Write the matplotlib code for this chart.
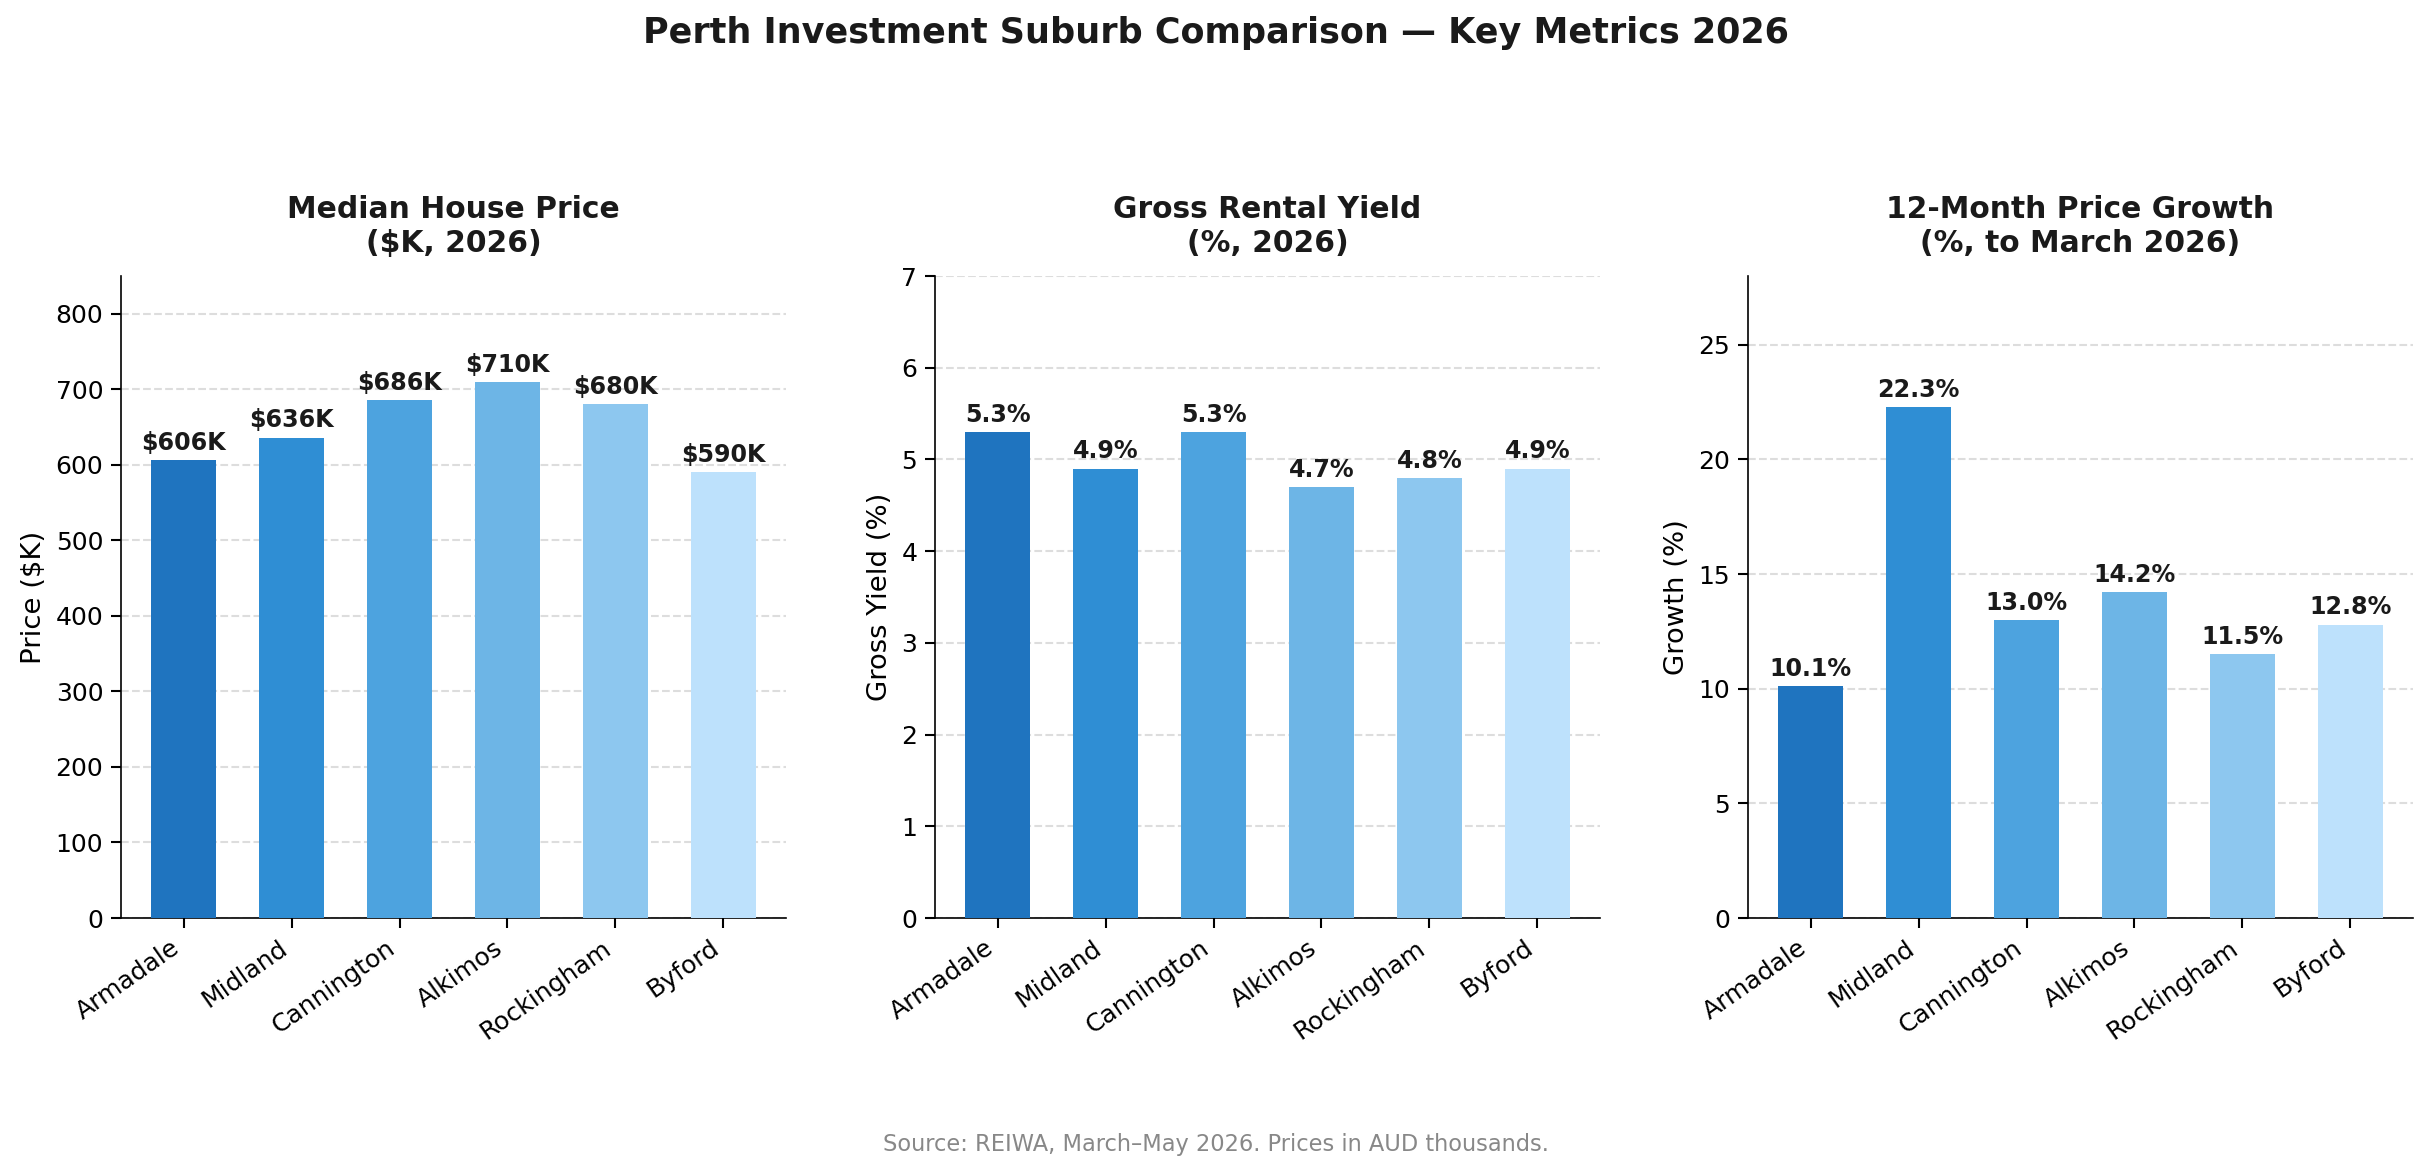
import matplotlib
matplotlib.use("Agg")
import matplotlib.pyplot as plt

suburbs = ["Armadale", "Midland", "Cannington", "Alkimos", "Rockingham", "Byford"]
price_k = [606, 636, 686, 710, 680, 590]
gross_yield = [5.3, 4.9, 5.3, 4.7, 4.8, 4.9]
growth = [10.1, 22.3, 13.0, 14.2, 11.5, 12.8]
colors = ["#1F74BF", "#2F8ED4", "#4DA3DF", "#6DB5E6", "#8DC7EF", "#BDE1FC"]

W, H = 2432, 1174
dpi = 150
fig = plt.figure(figsize=(W / dpi, H / dpi), dpi=dpi)

panels = [
    (price_k, "Median House Price\n($K, 2026)", "Price ($K)", (0, 850), lambda v: f"${v:.0f}K", 121),
    (gross_yield, "Gross Rental Yield\n(%, 2026)", "Gross Yield (%)", (0, 7), lambda v: f"{v:.1f}%", 935),
    (growth, "12-Month Price Growth\n(%, to March 2026)", "Growth (%)", (0, 28), lambda v: f"{v:.1f}%", 1748),
]

for vals, title, ylabel, ylim, fmt, x0 in panels:
    ax = fig.add_axes([x0 / W, 1 - 918 / H, 665 / W, (918 - 276) / H])
    x = range(len(suburbs))
    bars = ax.bar(x, vals, width=0.6, color=colors, zorder=3)
    ax.set_ylim(*ylim)
    ax.set_xticks(list(x))
    ax.set_xticklabels(suburbs, rotation=35, ha="right", fontsize=12)
    ax.tick_params(axis="y", labelsize=12)
    ax.tick_params(length=5, width=1)
    ax.set_ylabel(ylabel, fontsize=13.2)
    ax.set_title(title, fontsize=14.3, fontweight="bold", color="#1a1a1a", pad=11.5)
    ax.grid(axis="y", linestyle="--", color="#dddddd", linewidth=1, zorder=0)
    ax.spines["top"].set_visible(False)
    ax.spines["right"].set_visible(False)
    off = (ylim[1] - ylim[0]) * 0.008
    for b, v in zip(bars, vals):
        ax.text(b.get_x() + b.get_width() / 2, v + off, fmt(v), ha="center", va="bottom",
                fontsize=11.4, fontweight="bold", color="#1a1a1a")

fig.text(0.5, 1 - 33 / H, "Perth Investment Suburb Comparison \u2014 Key Metrics 2026",
         ha="center", va="center", fontsize=16.8, fontweight="bold", color="#1a1a1a")
fig.text(0.5, 1 - 1144 / H, "Source: REIWA, March\u2013May 2026. Prices in AUD thousands.",
         ha="center", va="center", fontsize=10.8, color="#888888")

fig.savefig("out.png", dpi=dpi)
